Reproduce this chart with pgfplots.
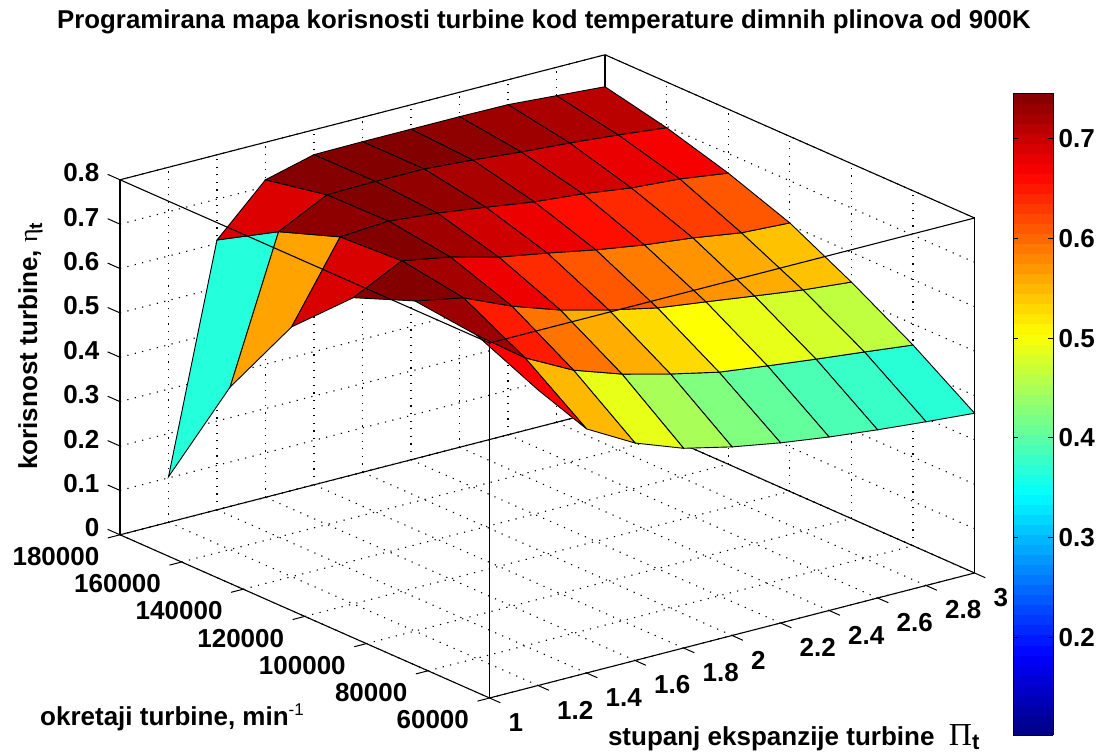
\documentclass[border=0pt]{standalone}
\usepackage{fontspec}
\usepackage{pgfplots}
\pgfplotsset{compat=1.18}
\setmainfont{Liberation Sans}
\newfontfamily\symf{Liberation Serif}
\begin{document}
\begin{tikzpicture}[x=1pt,y=1pt]
\path[use as bounding box] (0,0) rectangle (1098,754);
\begin{axis}[
  at={(120pt,56pt)}, anchor=south west,
  x={(242.5pt,62.5pt)},
  y={(-0.0030833pt,0.00135833pt)},
  z={(0pt,443.75pt)},
  xmin=1,xmax=3,ymin=60000,ymax=180000,zmin=0,zmax=0.8,
  clip=false,
  3d box=complete,
  grid=major,
  major grid style={black,line width=1.1pt,dash pattern=on 1.2pt off 6.4pt},
  axis line style={black,line width=1.1pt},
  tick style={draw=none},
  tick align=outside,
  major tick length=11pt,
  font=\fontsize{26}{28}\selectfont\bfseries,
  xtick={1,1.2,1.4,1.6,1.8,2,2.2,2.4,2.6,2.8,3},
  xticklabels={1,1.2,1.4,1.6,1.8,2,2.2,2.4,2.6,2.8,3},
  ytick={60000,80000,100000,120000,140000,160000,180000},
  yticklabels={60000,80000,100000,120000,140000,160000,180000},
  ztick={0,0.1,0.2,0.3,0.4,0.5,0.6,0.7,0.8},
  zticklabels={0,0.1,0.2,0.3,0.4,0.5,0.6,0.7,0.8},
  scaled ticks=false,
  colormap={mj}{rgb255=(0,0,128) rgb255=(0,0,255) rgb255=(0,128,255) rgb255=(0,255,255) rgb255=(128,255,128) rgb255=(255,255,0) rgb255=(255,128,0) rgb255=(255,0,0) rgb255=(128,0,0)},
  point meta min=0.102, point meta max=0.746,
  z buffer=sort,
  colorbar sampled,
  colorbar style={
    samples=65,
    at={(parent axis.south east)},anchor=south west,xshift=30pt,yshift=-37pt,
    scale only axis,width=40pt,height=642pt,
    ytick={0.2,0.3,0.4,0.5,0.6,0.7},
    yticklabels={0.2,0.3,0.4,0.5,0.6,0.7},
    tick align=inside,major tick length=5pt,
    tick style={black,line width=0.8pt},
    axis line style={black,line width=0.8pt},
    yticklabel pos=right,
    ytick pos=both,
    font=\fontsize{26}{28}\selectfont\bfseries,
    yticklabel style={anchor=west,xshift=2pt},
  },
  title={\fontsize{25.8}{28}\selectfont Programirana mapa korisnosti turbine kod temperature dimnih plinova od 900K},
  title style={at={(axis description cs:-0.0737,1.0311)},anchor=base west,inner sep=0pt},
  xlabel={stupanj ekspanzije turbine\ \ {\symf\mdseries\fontsize{32}{32}\selectfont Π}\raisebox{-4.5pt}{\fontsize{22}{22}\selectfont t}},
  ylabel={okretaji turbine, min\raisebox{10pt}{\fontsize{17}{17}\selectfont\mdseries -1}},
  zlabel={korisnost turbine, {\symf\mdseries η}\raisebox{-5pt}{\fontsize{19}{19}\selectfont t}},
  every axis x label/.style={at={(axis description cs:0.5708,-0.0731)},anchor=base west,inner sep=0pt,font=\fontsize{26}{28}\selectfont\bfseries},
  every axis y label/.style={at={(axis description cs:-0.0936,-0.042)},anchor=base west,inner sep=0pt,font=\fontsize{26}{28}\selectfont\bfseries},
  every axis z label/.style={at={(axis description cs:-0.0971,0.3546)},anchor=base west,inner sep=0pt,rotate=90,font=\fontsize{26}{28}\selectfont\bfseries},
  xticklabel style={anchor=west,xshift=5.5pt,yshift=-20pt},
  yticklabel style={anchor=east,xshift=-6.5pt,yshift=-19pt},
  zticklabel style={anchor=east,xshift=-7pt,yshift=2.5pt},
]
\addplot3[surf,shader=flat corner,draw=black,line width=0.9pt] table {
1.2 60000 0.666
1.4 60000 0.550
1.6 60000 0.490
1.8 60000 0.450
2.0 60000 0.425
2.2 60000 0.406
2.4 60000 0.391
2.6 60000 0.379
2.8 60000 0.369
3.0 60000 0.360

1.2 80000 0.7285
1.4 80000 0.649
1.6 80000 0.593
1.8 80000 0.556
2.0 80000 0.528
2.2 80000 0.504
2.4 80000 0.490
2.6 80000 0.477
2.8 80000 0.465
3.0 80000 0.4525

1.2 100000 0.744
1.4 100000 0.723
1.6 100000 0.676
1.8 100000 0.639
2.0 100000 0.611
2.2 100000 0.5875
2.4 100000 0.573
2.6 100000 0.558
2.8 100000 0.5435
3.0 100000 0.533

1.2 120000 0.690
1.4 120000 0.745
1.6 120000 0.7256
1.8 120000 0.697
2.0 120000 0.678
2.2 120000 0.657
2.4 120000 0.640
2.6 120000 0.6276
2.8 120000 0.611
3.0 120000 0.605

1.2 140000 0.563
1.4 140000 0.7376
1.6 140000 0.745
1.8 140000 0.735
2.0 140000 0.720
2.2 140000 0.704
2.4 140000 0.694
2.6 140000 0.679
2.8 140000 0.671
3.0 140000 0.656

1.2 160000 0.366
1.4 160000 0.688
1.6 160000 0.743
1.8 160000 0.745
2.0 160000 0.745
2.2 160000 0.737
2.4 160000 0.727
2.6 160000 0.719
2.8 160000 0.709
3.0 160000 0.697

1.2 180000 0.1025
1.4 180000 0.608
1.6 180000 0.7155
1.8 180000 0.744
2.0 180000 0.745
2.2 180000 0.745
2.4 180000 0.745
2.6 180000 0.744
2.8 180000 0.736
3.0 180000 0.728
};
\pgfplotsinvokeforeach{1,1.2,1.4,1.6,1.8,2,2.2,2.4,2.6,2.8,3}{
  \draw[black,line width=1pt] (axis cs:#1,60000,0) -- (axis cs:#1,56500,0);
}
\pgfplotsinvokeforeach{60000,80000,100000,120000,140000,160000,180000}{
  \draw[black,line width=1pt] (axis cs:1,#1,0) -- (axis cs:0.95,#1,0);
}
\pgfplotsinvokeforeach{0,0.1,0.2,0.3,0.4,0.5,0.6,0.7,0.8}{
  \draw[black,line width=1pt] (axis cs:1,180000,#1) -- (axis cs:1,184000,#1);
}
\end{axis}
\end{tikzpicture}
\end{document}
